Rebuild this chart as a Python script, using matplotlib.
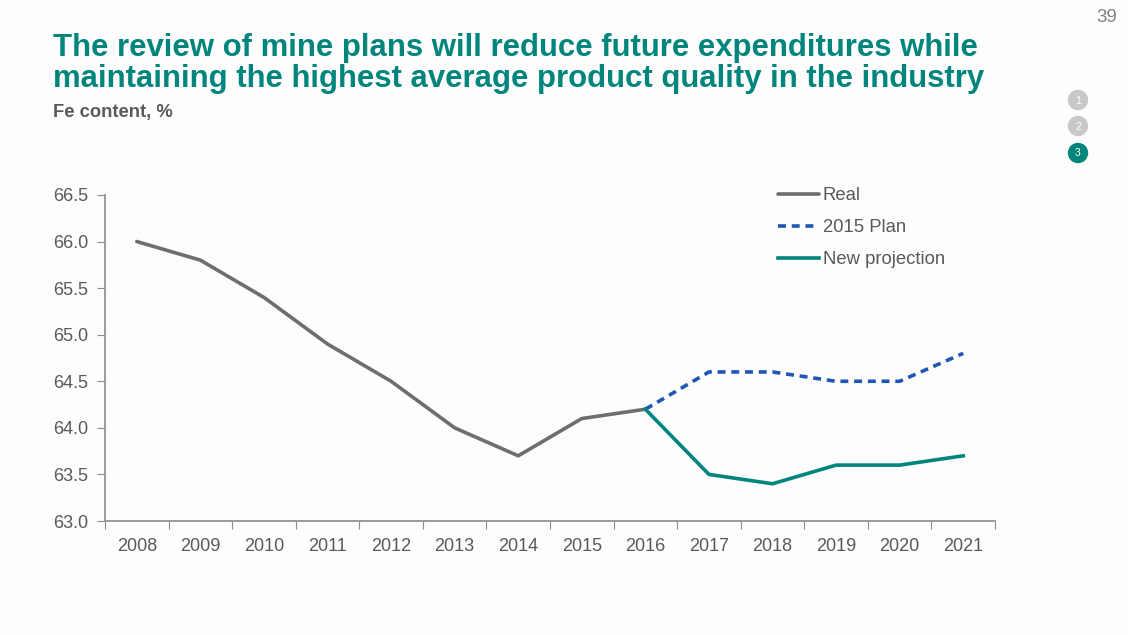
import matplotlib.pyplot as plt
import numpy as np

plt.rcParams['font.family'] = ['Liberation Sans', 'DejaVu Sans']

years = ['2008', '2009', '2010', '2011', '2012', '2013', '2014',
         '2015', '2016', '2017', '2018', '2019', '2020', '2021']
real = [66.0, 65.8, 65.4, 64.9, 64.5, 64.0, 63.7, 64.1, 64.2]
plan_2015 = [64.2, 64.6, 64.6, 64.5, 64.5, 64.8]
new_proj = [64.2, 63.5, 63.4, 63.6, 63.6, 63.7]

teal = '#00857d'
grey = '#6e6e6e'
blue = '#1f56b4'
txt = '#595959'

fig = plt.figure(figsize=(11.28, 6.35), dpi=100)
fig.patch.set_facecolor('#fdfdfd')
ax = fig.add_axes([0.0931, 0.1795, 0.789, 0.5135])
ax.set_facecolor('#fdfdfd')

x = np.arange(len(years))
ax.plot(x[:len(real)], real, color=grey, lw=2.6, label='Real', solid_capstyle='round')
ax.plot(x[8:], plan_2015, color=blue, lw=2.6, ls=(0, (2.2, 1.6)), label='2015 Plan')
ax.plot(x[8:], new_proj, color=teal, lw=2.6, label='New projection')

ax.set_xlim(-0.5, 13.5)
ax.set_ylim(63.0, 66.5)
yt = np.arange(63.0, 66.51, 0.5)
ax.set_yticks(yt)
ax.set_yticklabels([f'{v:.1f}' for v in yt])

# tick marks between categories, labels at centers
ax.set_xticks(np.arange(-0.5, 13.6, 1.0))
ax.set_xticklabels([])
ax.set_xticks(x, minor=True)
ax.set_xticklabels(years, minor=True)
ax.tick_params(axis='x', which='major', length=6, color='#8c8c8c', direction='out')
ax.tick_params(axis='x', which='minor', length=0, pad=12, labelsize=13, labelcolor=txt)
ax.tick_params(axis='y', length=6, color='#8c8c8c', labelsize=13, labelcolor=txt, pad=6)

for s in ['top', 'right']:
    ax.spines[s].set_visible(False)
for s in ['left', 'bottom']:
    ax.spines[s].set_color('#8c8c8c')
    ax.spines[s].set_linewidth(1.2)

leg = ax.legend(loc='upper left', bbox_to_anchor=(0.737, 1.075), frameon=False,
                handlelength=2.25, handletextpad=0.2, labelspacing=0.82,
                fontsize=13.3)
for t in leg.get_texts():
    t.set_color(txt)

fig.text(0.047, 0.948, 'The review of mine plans will reduce future expenditures while\n'
         'maintaining the highest average product quality in the industry',
         color=teal, fontsize=22.4, fontweight='bold', va='top', ha='left',
         linespacing=1.05)
fig.text(0.047, 0.823, 'Fe content, %', color=txt, fontsize=13.2, fontweight='bold',
         va='center', ha='left')
fig.text(0.99, 0.972, '39', color='#7f7f7f', fontsize=13.5, ha='right', va='center')

circ_ax = fig.add_axes([0, 0, 1, 1], facecolor='none')
circ_ax.set_xlim(0, 1128)
circ_ax.set_ylim(635, 0)
circ_ax.axis('off')
for i, (yy, c) in enumerate([(100, '#c8c8c8'), (126, '#c8c8c8'), (153, teal)]):
    circ_ax.add_patch(plt.Circle((1078, yy), 9.5, color=c))
    circ_ax.text(1078, yy + 0.5, str(i + 1), color='white', fontsize=7.5,
                 ha='center', va='center')

fig.savefig('out.png', dpi=100, facecolor=fig.get_facecolor())
